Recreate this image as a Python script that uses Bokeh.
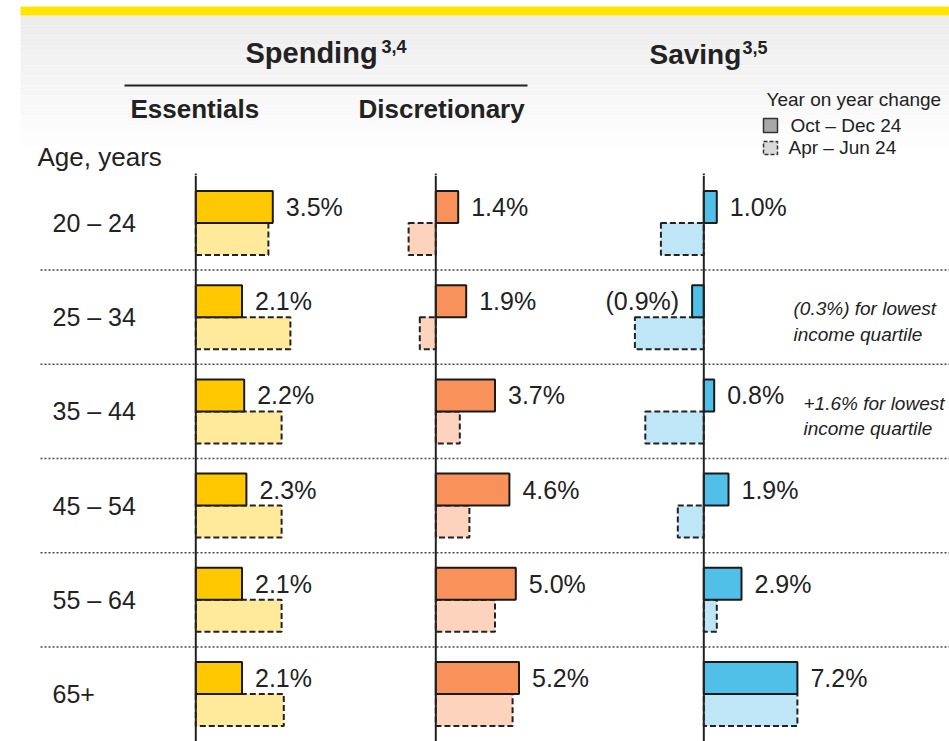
from bokeh.plotting import figure
from bokeh.models import Range1d, FactorRange, ColumnDataSource, Span
from bokeh.transform import dodge
from bokeh.layouts import column
from bokeh.embed import file_html
from bokeh.resources import INLINE
from bokeh.core.properties import value

# ---------------- data ----------------
ages = ["20 – 24", "25 – 34", "35 – 44", "45 – 54", "55 – 64", "65+"]
periods = ["Oct – Dec 24", "Apr – Jun 24"]

essentials_oct = [3.5, 2.1, 2.2, 2.3, 2.1, 2.1]
essentials_apr = [3.3, 4.3, 3.9, 3.9, 3.9, 4.0]
discretionary_oct = [1.4, 1.9, 3.7, 4.6, 5.0, 5.2]
discretionary_apr = [-1.7, -1.0, 1.5, 2.1, 3.7, 4.8]
saving_oct = [1.0, -0.9, 0.8, 1.9, 2.9, 7.2]
saving_apr = [-3.3, -5.3, -4.5, -2.0, 1.0, 7.2]

note_ages = ["25 – 34", "35 – 44"]
note_line1 = ["(0.3%) for lowest", "+1.6% for lowest"]
note_line2 = ["income quartile", "income quartile"]

# ---------------- layout / style ----------------
FONT = value("Liberation Sans")
TXT = "#222222"
W = 949
X0, X1 = 0, 949          # layout coordinates = reference pixels
SPLIT = 175              # header spans y 0..175, bars below
TOP_H = SPLIT
BOT_H = 741 - SPLIT
UNIT = 32.0
GP = 0.944
PAD = (BOT_H / UNIT - (2 * len(ages) + (len(ages) - 1) * GP)) / 2

# name, zero position (px), px per percent, colours
panels = [
    ("ess", 195.3, 22.0, "#FFC800", "#FFEA9C", essentials_oct, essentials_apr),
    ("disc", 435.3, 16.0, "#F8915A", "#FDD3BD", discretionary_oct, discretionary_apr),
    ("sav", 703.3, 13.0, "#50C0E8", "#BEE6F6", saving_oct, saving_apr),
]


def panel_ranges():
    return {name: Range1d((X0 - z) / s, (X1 - z) / s) for name, z, s, *_ in panels}


def clean(p):
    p.xgrid.grid_line_color = None
    p.ygrid.grid_line_color = None
    p.outline_line_color = None
    p.background_fill_color = "white"
    p.border_fill_color = "white"
    p.min_border_left = p.min_border_right = 0
    p.min_border_top = p.min_border_bottom = 0


def txt(p, x, y, s, size, style="normal", align="left", color=TXT, **kw):
    p.text(x=[x], y=[y], text=[s], text_font=FONT, text_font_size=size,
           text_font_style=style, text_align=align, text_baseline="middle",
           text_color=color, **kw)


# ---------------- header figure ----------------
top = figure(width=W, height=TOP_H, x_range=Range1d(X0, X1),
             y_range=Range1d(SPLIT, 0), x_axis_location=None,
             y_axis_location=None, toolbar_location=None, output_backend="svg",
             min_border=0)
clean(top)
top.extra_x_ranges = panel_ranges()

# soft grey gradient under the yellow band
nb = 14
g_top = [15 + 10 * i for i in range(nb)]
g_bot = [25 + 10 * i for i in range(nb)]
g_col = []
for i in range(nb):
    c = int(237 + (255 - 237) * i / (nb - 1))
    g_col.append("#%02x%02x%02x" % (c, c, c))
top.quad(left=20, right=X1, top=g_top, bottom=g_bot, fill_color=g_col, line_color=None)
top.quad(left=[20], right=[X1], top=[6], bottom=[15], fill_color="#FFE600", line_color=None)

txt(top, 245, 52, "Spending", "29px", "bold")
txt(top, 381, 46, "3,4", "18px", "bold")
txt(top, 649, 54, "Saving", "28px", "bold")
txt(top, 742, 47, "3,5", "18px", "bold")
top.segment(x0=[124], x1=[527], y0=[85], y1=[85], line_color="#222222", line_width=2)
txt(top, 130, 108, "Essentials", "26px", "bold")
txt(top, 358, 108, "Discretionary", "26px", "bold")
txt(top, 37, 156, "Age, years", "26px")

# legend
txt(top, 766, 99, "Year on year change", "19px")
top.quad(left=[763], right=[777], top=[118], bottom=[132], fill_color="#A8A8A8",
         line_color="#333333", line_width=1.5)
top.quad(left=[763], right=[777], top=[141], bottom=[154], fill_color="#DADADA",
         line_color="#333333", line_width=1.5, line_dash="4 2")
txt(top, 790, 125, periods[0], "19px")
txt(top, 788, 147, periods[1], "19px")

# short stubs of the panel zero lines above the bars area
for name, *_ in panels:
    top.segment(x0=[0], x1=[0], y0=[173], y1=[SPLIT], x_range_name=name,
                line_color="#222222", line_width=2)

# ---------------- bars figure ----------------
factors = [(a, per) for a in reversed(ages) for per in (periods[1], periods[0])]
yr = FactorRange(factors=factors, factor_padding=0, group_padding=GP,
                 range_padding=PAD, range_padding_units="absolute")
bot = figure(width=W, height=BOT_H, x_range=Range1d(X0, X1), y_range=yr,
             x_axis_location=None, y_axis_location=None, toolbar_location=None,
             output_backend="svg", min_border=0)
clean(bot)
bot.extra_x_ranges = panel_ranges()

# dotted row separators
sep = ColumnDataSource(dict(g=ages[:-1]))
bot.segment(x0=40, x1=X1, y0=dodge("g", -(1 + GP / 2), range=yr),
            y1=dodge("g", -(1 + GP / 2), range=yr), source=sep,
            line_color="#4a4a4a", line_width=1.5, line_dash="2 2")

# age labels
bot.text(x=52, y=ages, text=ages, text_font=FONT, text_font_size="25px",
         text_baseline="middle", text_align="left", text_color=TXT)

for name, z, s, c_oct, c_apr, v_oct, v_apr in panels:
    y_oct = [(a, periods[0]) for a in ages]
    y_apr = [(a, periods[1]) for a in ages]
    bot.hbar(y=y_apr, left=0, right=v_apr, height=1.0, x_range_name=name,
             fill_color=c_apr, line_color="#222222", line_width=2, line_dash="6 3")
    bot.hbar(y=y_oct, left=0, right=v_oct, height=1.0, x_range_name=name,
             fill_color=c_oct, line_color="#1a1a1a", line_width=2)
    bot.add_layout(Span(location=0, dimension="height", x_range_name=name,
                        line_color="#222222", line_width=2))
    pos = [(y, v) for y, v in zip(y_oct, v_oct) if v >= 0]
    neg = [(y, v) for y, v in zip(y_oct, v_oct) if v < 0]
    if pos:
        bot.text(x=[v for _, v in pos], y=[y for y, _ in pos],
                 text=["%.1f%%" % v for _, v in pos], x_range_name=name,
                 x_offset=13, text_font=FONT, text_font_size="25px",
                 text_baseline="middle", text_align="left", text_color=TXT)
    if neg:
        bot.text(x=[v for _, v in neg], y=[y for y, _ in neg],
                 text=["(%.1f%%)" % abs(v) for _, v in neg], x_range_name=name,
                 x_offset=-13, text_font=FONT, text_font_size="25px",
                 text_baseline="middle", text_align="right", text_color=TXT)

# italic notes
notes = ColumnDataSource(dict(g=note_ages, l1=note_line1, l2=note_line2, x=[793, 803]))
bot.text(x="x", y=dodge("g", 0.26, range=yr), text="l1", source=notes,
         text_font=FONT, text_font_size="19px", text_font_style="italic",
         text_baseline="middle", text_align="left", text_color=TXT)
bot.text(x="x", y=dodge("g", -0.54, range=yr), text="l2", source=notes,
         text_font=FONT, text_font_size="19px", text_font_style="italic",
         text_baseline="middle", text_align="left", text_color=TXT)

layout = column(top, bot, spacing=0)
open("out.html", "w").write(file_html(layout, INLINE))
